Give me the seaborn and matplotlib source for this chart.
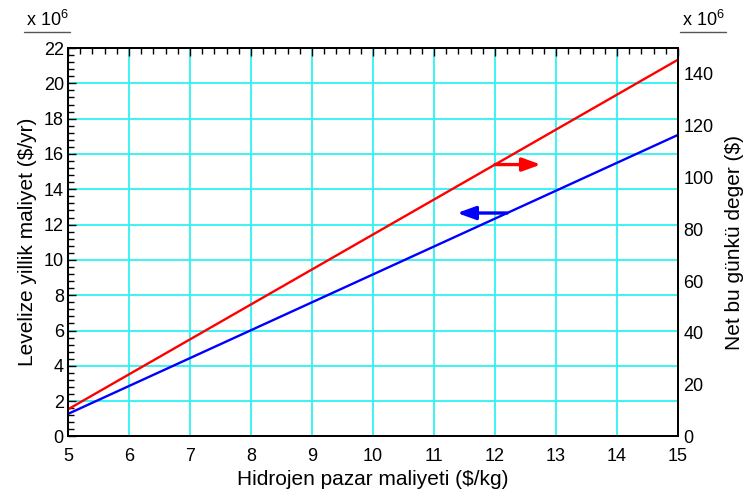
import numpy as np
import pandas as pd
import matplotlib
matplotlib.use('Agg')
import matplotlib.pyplot as plt
import seaborn as sns
from matplotlib.lines import Line2D
from matplotlib.ticker import MultipleLocator

# values
price = [5, 6, 7, 8, 9, 10, 11, 12, 13, 14, 15]                       # $/kg
annual_cost = [1.28, 2.86, 4.44, 6.02, 7.60, 9.18, 10.76, 12.34, 13.92, 15.50, 17.08]   # x1e6 $/yr
npv = [10.5, 24.0, 37.5, 51.0, 64.5, 78.0, 91.5, 105.0, 118.5, 132.0, 145.5]             # x1e6 $

data = pd.DataFrame({'price': price, 'annual_cost': annual_cost, 'npv': npv})

sns.set_theme(style="white")
plt.rcParams['font.family'] = ['Liberation Sans', 'DejaVu Sans']

fig = plt.figure(figsize=(7.5, 4.94), dpi=100)
ax = fig.add_axes([0.0907, 0.1164, 0.8133, 0.7864])
ax2 = ax.twinx()

# cyan grid behind everything
ax.set_axisbelow(True)
ax.grid(True, which='major', color='#2ef2f2', lw=1.3)

sns.lineplot(data=data, x='price', y='annual_cost', ax=ax, color='#0000ff', lw=1.7)
sns.lineplot(data=data, x='price', y='npv', ax=ax2, color='#ff0000', lw=1.7)

ax.set_xlim(5, 15)
ax.set_ylim(0, 22)
ax2.set_ylim(0, 150)
ax.set_xticks(np.arange(5, 16, 1))
ax.set_yticks(np.arange(0, 23, 2))
ax2.set_yticks(np.arange(0, 141, 20))
ax.xaxis.set_minor_locator(MultipleLocator(0.2))
ax.yaxis.set_minor_locator(MultipleLocator(0.4))

ax.tick_params(which='both', direction='in', top=True, right=False, color='black',
               labelsize=13, labelcolor='black', width=1)
ax.tick_params(which='major', length=6)
ax.tick_params(which='minor', length=4)
ax.tick_params(axis='x', which='major', pad=8)
ax.tick_params(axis='y', which='major', pad=3)
ax2.tick_params(axis='y', length=0, labelsize=13, labelcolor='black', pad=4)

for a in (ax, ax2):
    for s in a.spines.values():
        s.set_color('black')
        s.set_linewidth(1.3)

ax.set_xlabel('Hidrojen pazar maliyeti ($/kg)', fontsize=15, color='black', labelpad=4)
ax.set_ylabel('Levelize yillik maliyet ($/yr)', fontsize=15, color='black', labelpad=5)
ax2.set_ylabel('Net bu günkü deger ($)', fontsize=15, color='black', labelpad=8)

# direction arrows showing which axis each line belongs to
arrow_style = '-|>,head_length=0.55,head_width=0.2'
red_y = npv[price.index(12)]
ax2.annotate('', xy=(12.75, red_y), xytext=(12.0, red_y),
             arrowprops=dict(arrowstyle=arrow_style, color='#ff0000', lw=2.4,
                             mutation_scale=20, shrinkA=0, shrinkB=0))
blue_y = float(np.interp(12.2, price, annual_cost))
ax.annotate('', xy=(11.38, blue_y), xytext=(12.2, blue_y),
            arrowprops=dict(arrowstyle=arrow_style, color='#0000ff', lw=2.4,
                            mutation_scale=20, shrinkA=0, shrinkB=0))

# multiplier labels above both axes
for x0, x1 in [(24, 70), (680, 726)]:
    fig.text((x0 + x1) / 2 / 750, 1 - 20 / 494, r'x $\mathregular{10^6}$',
             ha='center', va='center', fontsize=13, color='black')
    fig.add_artist(Line2D([x0 / 750, x1 / 750], [1 - 32.5 / 494] * 2,
                          color='#555555', lw=1))

fig.savefig('out.png', dpi=100)
